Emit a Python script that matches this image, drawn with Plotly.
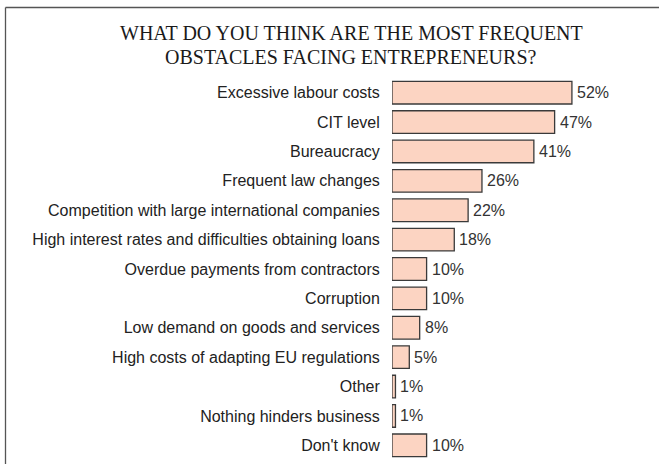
import plotly.graph_objects as go

# Survey answers, listed top to bottom
categories = [
    "Excessive labour costs",
    "CIT level",
    "Bureaucracy",
    "Frequent law changes",
    "Competition with large international companies",
    "High interest rates and difficulties obtaining loans",
    "Overdue payments from contractors",
    "Corruption",
    "Low demand on goods and services",
    "High costs of adapting EU regulations",
    "Other",
    "Nothing hinders business",
    "Don't know",
]
shares = [52, 47, 41, 26, 22, 18, 10, 10, 8, 5, 1, 1, 10]
title_lines = [
    "WHAT DO YOU THINK ARE THE MOST FREQUENT",
    "OBSTACLES FACING ENTREPRENEURS?",
]

W, H = 659, 464
ML, MR, MT, MB = 392, 0, 78, 4
plot_w = W - ML - MR
plot_h = H - MT - MB


def px_x(px):
    return (px - ML) / plot_w


def px_y(py):
    return (H - MB - py) / plot_h


fig = go.Figure(
    go.Bar(
        x=shares,
        y=categories,
        orientation="h",
        marker=dict(color="#FCD4C2", line=dict(color="#3a3a3a", width=1.3)),
        width=0.77,
        hoverinfo="skip",
    )
)

value_font = dict(family="Liberation Sans, Arial, sans-serif", size=16, color="#333333")

# Percentage labels just right of each bar end
annotations = [
    dict(
        text=f"{v}%",
        x=v,
        y=c,
        xref="x",
        yref="y",
        showarrow=False,
        xanchor="left",
        yanchor="middle",
        xshift=3,
        font=value_font,
    )
    for c, v in zip(categories, shares)
]

annotations += [
    dict(
        text=line,
        x=px_x(351),
        y=px_y(cy),
        xref="paper",
        yref="paper",
        showarrow=False,
        xanchor="center",
        yanchor="middle",
        font=dict(family="Liberation Serif, Times New Roman, serif", size=20, color="#1a1a1a"),
    )
    for line, cy in zip(title_lines, [33, 57])
]

# Open frame: left and top edges
shapes = [
    dict(type="line", xref="paper", yref="paper",
         x0=px_x(5.5), x1=px_x(5.5), y0=px_y(7.5), y1=px_y(470),
         line=dict(color="#555555", width=1.3)),
    dict(type="line", xref="paper", yref="paper",
         x0=px_x(5.5), x1=px_x(700), y0=px_y(7.5), y1=px_y(7.5),
         line=dict(color="#555555", width=1.3)),
]

fig.update_layout(
    width=W,
    height=H,
    margin=dict(l=ML, r=MR, t=MT, b=MB),
    paper_bgcolor="white",
    plot_bgcolor="white",
    showlegend=False,
    annotations=annotations,
    shapes=shapes,
    xaxis=dict(range=[0, plot_w / 3.46], visible=False, fixedrange=True),
    yaxis=dict(
        autorange="reversed",
        showgrid=False,
        zeroline=False,
        showline=False,
        ticks="outside",
        ticklen=8,
        tickcolor="rgba(0,0,0,0)",
        tickfont=dict(family="Liberation Sans, Arial, sans-serif", size=16, color="#222222"),
        fixedrange=True,
    ),
)

fig.write_html("out.html")
